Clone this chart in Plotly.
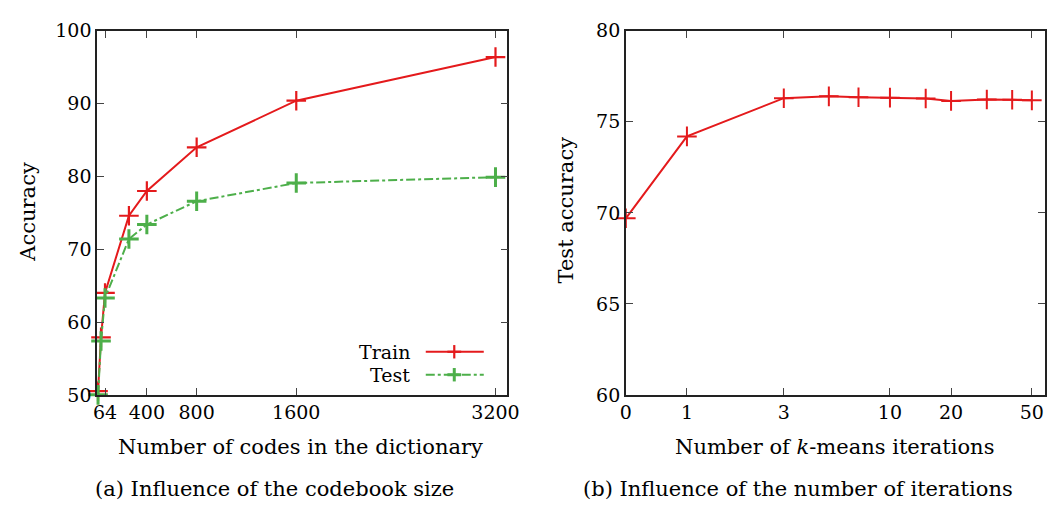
import math
import plotly.graph_objects as go

# (a) accuracy vs. dictionary size
codes = [8, 32, 64, 256, 400, 800, 1600, 3200]
train_acc = [50.5, 57.9, 64.0, 74.6, 78.0, 84.0, 90.4, 96.4]
test_acc = [50.0, 57.4, 63.3, 71.4, 73.4, 76.6, 79.1, 79.9]
codes_ticks = [64, 400, 800, 1600, 3200]

# (b) test accuracy vs. number of k-means iterations
iterations = [0, 1, 3, 5, 7, 10, 15, 20, 30, 40, 50]
iter_acc = [69.7, 74.2, 76.3, 76.4, 76.35, 76.33, 76.28, 76.15, 76.23, 76.21, 76.18]
iter_ticks = [0, 1, 3, 10, 20, 50]

RED = "#e41a1c"
GREEN = "#4daf4a"
FONT = "DejaVu Serif"
FS_TICK = 19
FS_TEXT = 21
FS_LEGEND = 19

# zero iterations cannot sit on a log axis; draw it at 0.5
ZERO_POS = 0.5
iter_x = [ZERO_POS if v == 0 else v for v in iterations]
iter_tickpos = [ZERO_POS if v == 0 else v for v in iter_ticks]

fig = go.Figure()

fig.add_trace(go.Scatter(
    x=codes, y=train_acc, mode="lines+markers", name="Train",
    line=dict(color=RED, width=2),
    marker=dict(symbol="cross-thin", size=14, line=dict(color=RED, width=2.2)),
    cliponaxis=False, xaxis="x", yaxis="y",
))
fig.add_trace(go.Scatter(
    x=codes, y=test_acc, mode="lines+markers", name="Test",
    line=dict(color=GREEN, width=2, dash="dashdot"),
    marker=dict(symbol="cross-thin", size=14, line=dict(color=GREEN, width=3)),
    cliponaxis=False, xaxis="x", yaxis="y",
))
fig.add_trace(go.Scatter(
    x=iter_x, y=iter_acc, mode="lines+markers", name="Test accuracy",
    line=dict(color=RED, width=2),
    marker=dict(symbol="cross-thin", size=14, line=dict(color=RED, width=2)),
    cliponaxis=False, xaxis="x2", yaxis="y2",
))

axis_common = dict(
    showline=True, linecolor="#222", linewidth=1.5, mirror="ticks",
    ticks="inside", ticklen=7, tickcolor="#444", tickwidth=1.2,
    showgrid=False, zeroline=False,
    tickfont=dict(family=FONT, size=FS_TICK, color="black"),
)

fig.update_layout(
    width=1062, height=514,
    margin=dict(l=0, r=0, t=0, b=0),
    paper_bgcolor="white", plot_bgcolor="white",
    showlegend=False,
    font=dict(family=FONT, size=FS_TICK, color="black"),
    xaxis=dict(domain=[0.0872, 0.4802], range=[0, 3295],
               tickvals=codes_ticks, ticktext=[str(v) for v in codes_ticks],
               anchor="y", **axis_common),
    yaxis=dict(domain=[0.2198, 0.9597], range=[50, 100], dtick=10,
               anchor="x", **axis_common),
    xaxis2=dict(domain=[0.5937, 0.9953], type="log",
                range=[math.log10(ZERO_POS), math.log10(58.1)],
                tickvals=iter_tickpos, ticktext=[str(v) for v in iter_ticks],
                anchor="y2", **axis_common),
    yaxis2=dict(domain=[0.2198, 0.9597], range=[60, 80], dtick=5,
                anchor="x2", **axis_common),
)

def text(x, y, s, xanchor="center", size=FS_TEXT, **kw):
    fig.add_annotation(x=x, y=y, xref="paper", yref="paper", text=s,
                       showarrow=False, xanchor=xanchor, yanchor="middle",
                       font=dict(family=FONT, size=size, color="black"), **kw)

W, H = 1062, 514
px = lambda v: v / W
py = lambda v: 1 - v / H

# axis titles
text(px(300), py(455), "Number of codes in the dictionary")
text(px(843), py(455), "Number of <i>k</i>-means iterations")
text(px(22), py(210), "Accuracy", textangle=-90)
text(px(570), py(208), "Test accuracy", textangle=-90)

# captions
text(px(273), py(499), "(a) Influence of the codebook size")
text(px(806), py(499), "(b) Influence of the number of iterations")

# legend of panel (a): label on the left, sample on the right
for label, color, dash, lw, yc in [("Train", RED, "solid", 2.2, 356),
                                   ("Test", GREEN, "dashdot", 3, 380)]:
    text(px(413), py(yc), label, xanchor="right", size=FS_LEGEND)
    fig.add_shape(type="line", xref="paper", yref="paper",
                  x0=px(427), x1=px(486), y0=py(yc), y1=py(yc),
                  line=dict(color=color, width=2, dash=dash))
    fig.add_shape(type="line", xref="paper", yref="paper",
                  x0=px(449), x1=px(463), y0=py(yc), y1=py(yc),
                  line=dict(color=color, width=lw))
    fig.add_shape(type="line", xref="paper", yref="paper",
                  x0=px(456), x1=px(456), y0=py(yc - 7), y1=py(yc + 7),
                  line=dict(color=color, width=lw))

fig.write_html("out.html")
